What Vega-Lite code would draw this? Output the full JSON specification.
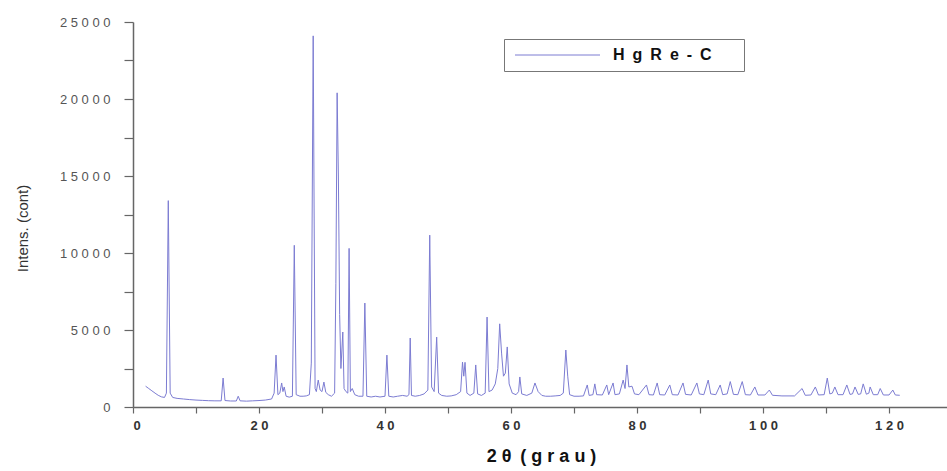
{
  "$schema": "https://vega.github.io/schema/vega-lite/v6.json",
  "width": 814,
  "height": 385,
  "autosize": {"type": "none"},
  "padding": {"left": 133, "top": 22, "right": 0, "bottom": 64},
  "background": "white",
  "config": {
    "view": {"stroke": null},
    "font": "Liberation Sans",
    "axis": {
      "grid": false,
      "domainColor": "#666",
      "domainWidth": 1.5,
      "tickColor": "#666",
      "tickWidth": 1.2,
      "labelFont": "Liberation Sans",
      "labelColor": "#444",
      "labelFontSize": 12,
      "titleFont": "Liberation Sans",
      "titleColor": "#222"
    }
  },
  "data": {
    "values": [
      {"theta2": 2.0, "intens": 1350, "serie": "HgRe-C"},
      {"theta2": 2.5, "intens": 1200, "serie": "HgRe-C"},
      {"theta2": 3.0, "intens": 1050, "serie": "HgRe-C"},
      {"theta2": 3.5, "intens": 900, "serie": "HgRe-C"},
      {"theta2": 4.0, "intens": 760, "serie": "HgRe-C"},
      {"theta2": 4.5, "intens": 660, "serie": "HgRe-C"},
      {"theta2": 5.0, "intens": 620, "serie": "HgRe-C"},
      {"theta2": 5.3, "intens": 900, "serie": "HgRe-C"},
      {"theta2": 5.6, "intens": 13400, "serie": "HgRe-C"},
      {"theta2": 5.9, "intens": 900, "serie": "HgRe-C"},
      {"theta2": 6.3, "intens": 620, "serie": "HgRe-C"},
      {"theta2": 7.0, "intens": 560, "serie": "HgRe-C"},
      {"theta2": 8.0, "intens": 520, "serie": "HgRe-C"},
      {"theta2": 9.0, "intens": 480, "serie": "HgRe-C"},
      {"theta2": 10.0, "intens": 450, "serie": "HgRe-C"},
      {"theta2": 11.0, "intens": 430, "serie": "HgRe-C"},
      {"theta2": 12.0, "intens": 410, "serie": "HgRe-C"},
      {"theta2": 13.0, "intens": 400, "serie": "HgRe-C"},
      {"theta2": 14.0, "intens": 400, "serie": "HgRe-C"},
      {"theta2": 14.3, "intens": 1880, "serie": "HgRe-C"},
      {"theta2": 14.6, "intens": 420, "serie": "HgRe-C"},
      {"theta2": 15.5, "intens": 390, "serie": "HgRe-C"},
      {"theta2": 16.4, "intens": 390, "serie": "HgRe-C"},
      {"theta2": 16.7, "intens": 700, "serie": "HgRe-C"},
      {"theta2": 17.0, "intens": 400, "serie": "HgRe-C"},
      {"theta2": 18.0, "intens": 380, "serie": "HgRe-C"},
      {"theta2": 19.0, "intens": 400, "serie": "HgRe-C"},
      {"theta2": 20.0, "intens": 420, "serie": "HgRe-C"},
      {"theta2": 21.0, "intens": 450, "serie": "HgRe-C"},
      {"theta2": 22.0, "intens": 520, "serie": "HgRe-C"},
      {"theta2": 22.4, "intens": 900, "serie": "HgRe-C"},
      {"theta2": 22.7, "intens": 3370, "serie": "HgRe-C"},
      {"theta2": 23.0, "intens": 800, "serie": "HgRe-C"},
      {"theta2": 23.3, "intens": 900, "serie": "HgRe-C"},
      {"theta2": 23.6, "intens": 1560, "serie": "HgRe-C"},
      {"theta2": 23.8, "intens": 1000, "serie": "HgRe-C"},
      {"theta2": 24.0, "intens": 1300, "serie": "HgRe-C"},
      {"theta2": 24.3, "intens": 700, "serie": "HgRe-C"},
      {"theta2": 24.8, "intens": 640, "serie": "HgRe-C"},
      {"theta2": 25.3, "intens": 700, "serie": "HgRe-C"},
      {"theta2": 25.6, "intens": 10500, "serie": "HgRe-C"},
      {"theta2": 25.9, "intens": 800, "serie": "HgRe-C"},
      {"theta2": 26.5, "intens": 700, "serie": "HgRe-C"},
      {"theta2": 27.0, "intens": 700, "serie": "HgRe-C"},
      {"theta2": 27.5, "intens": 720, "serie": "HgRe-C"},
      {"theta2": 28.0, "intens": 800, "serie": "HgRe-C"},
      {"theta2": 28.3, "intens": 2850, "serie": "HgRe-C"},
      {"theta2": 28.6, "intens": 24100, "serie": "HgRe-C"},
      {"theta2": 28.9, "intens": 1200, "serie": "HgRe-C"},
      {"theta2": 29.1, "intens": 1000, "serie": "HgRe-C"},
      {"theta2": 29.4, "intens": 1750, "serie": "HgRe-C"},
      {"theta2": 29.7, "intens": 1100, "serie": "HgRe-C"},
      {"theta2": 30.0, "intens": 1000, "serie": "HgRe-C"},
      {"theta2": 30.3, "intens": 1620, "serie": "HgRe-C"},
      {"theta2": 30.6, "intens": 950, "serie": "HgRe-C"},
      {"theta2": 31.0, "intens": 800, "serie": "HgRe-C"},
      {"theta2": 31.5, "intens": 700, "serie": "HgRe-C"},
      {"theta2": 32.0, "intens": 900, "serie": "HgRe-C"},
      {"theta2": 32.2, "intens": 8000, "serie": "HgRe-C"},
      {"theta2": 32.4, "intens": 20400, "serie": "HgRe-C"},
      {"theta2": 32.6, "intens": 15000, "serie": "HgRe-C"},
      {"theta2": 32.8, "intens": 6000, "serie": "HgRe-C"},
      {"theta2": 33.0, "intens": 2500, "serie": "HgRe-C"},
      {"theta2": 33.3, "intens": 4870, "serie": "HgRe-C"},
      {"theta2": 33.5, "intens": 1200, "serie": "HgRe-C"},
      {"theta2": 33.8, "intens": 1000, "serie": "HgRe-C"},
      {"theta2": 34.1, "intens": 900, "serie": "HgRe-C"},
      {"theta2": 34.3, "intens": 10300, "serie": "HgRe-C"},
      {"theta2": 34.5, "intens": 1000, "serie": "HgRe-C"},
      {"theta2": 34.8, "intens": 1200, "serie": "HgRe-C"},
      {"theta2": 35.2, "intens": 800, "serie": "HgRe-C"},
      {"theta2": 35.8, "intens": 700, "serie": "HgRe-C"},
      {"theta2": 36.5, "intens": 700, "serie": "HgRe-C"},
      {"theta2": 36.8, "intens": 6750, "serie": "HgRe-C"},
      {"theta2": 37.1, "intens": 700, "serie": "HgRe-C"},
      {"theta2": 37.8, "intens": 650, "serie": "HgRe-C"},
      {"theta2": 38.5, "intens": 700, "serie": "HgRe-C"},
      {"theta2": 39.2, "intens": 650, "serie": "HgRe-C"},
      {"theta2": 40.0, "intens": 700, "serie": "HgRe-C"},
      {"theta2": 40.3, "intens": 3370, "serie": "HgRe-C"},
      {"theta2": 40.6, "intens": 700, "serie": "HgRe-C"},
      {"theta2": 41.3, "intens": 650, "serie": "HgRe-C"},
      {"theta2": 42.0, "intens": 700, "serie": "HgRe-C"},
      {"theta2": 42.8, "intens": 750, "serie": "HgRe-C"},
      {"theta2": 43.5, "intens": 700, "serie": "HgRe-C"},
      {"theta2": 43.8, "intens": 800, "serie": "HgRe-C"},
      {"theta2": 44.0, "intens": 4480, "serie": "HgRe-C"},
      {"theta2": 44.2, "intens": 750, "serie": "HgRe-C"},
      {"theta2": 44.8, "intens": 700, "serie": "HgRe-C"},
      {"theta2": 45.5, "intens": 750, "serie": "HgRe-C"},
      {"theta2": 46.2, "intens": 850, "serie": "HgRe-C"},
      {"theta2": 46.8, "intens": 1100, "serie": "HgRe-C"},
      {"theta2": 47.1, "intens": 11160, "serie": "HgRe-C"},
      {"theta2": 47.4, "intens": 1300, "serie": "HgRe-C"},
      {"theta2": 47.8, "intens": 1000, "serie": "HgRe-C"},
      {"theta2": 48.2, "intens": 4540, "serie": "HgRe-C"},
      {"theta2": 48.5, "intens": 900, "serie": "HgRe-C"},
      {"theta2": 49.0, "intens": 750, "serie": "HgRe-C"},
      {"theta2": 49.8, "intens": 700, "serie": "HgRe-C"},
      {"theta2": 50.5, "intens": 720, "serie": "HgRe-C"},
      {"theta2": 51.3, "intens": 800, "serie": "HgRe-C"},
      {"theta2": 52.0, "intens": 1000, "serie": "HgRe-C"},
      {"theta2": 52.3, "intens": 2920, "serie": "HgRe-C"},
      {"theta2": 52.5, "intens": 2000, "serie": "HgRe-C"},
      {"theta2": 52.7, "intens": 2900, "serie": "HgRe-C"},
      {"theta2": 53.0, "intens": 900, "serie": "HgRe-C"},
      {"theta2": 53.5, "intens": 750, "serie": "HgRe-C"},
      {"theta2": 54.1, "intens": 900, "serie": "HgRe-C"},
      {"theta2": 54.4, "intens": 2730, "serie": "HgRe-C"},
      {"theta2": 54.7, "intens": 850, "serie": "HgRe-C"},
      {"theta2": 55.3, "intens": 750, "serie": "HgRe-C"},
      {"theta2": 55.9, "intens": 900, "serie": "HgRe-C"},
      {"theta2": 56.2, "intens": 5840, "serie": "HgRe-C"},
      {"theta2": 56.5, "intens": 1000, "serie": "HgRe-C"},
      {"theta2": 57.0, "intens": 1100, "serie": "HgRe-C"},
      {"theta2": 57.5, "intens": 1500, "serie": "HgRe-C"},
      {"theta2": 57.9, "intens": 2500, "serie": "HgRe-C"},
      {"theta2": 58.2, "intens": 5400, "serie": "HgRe-C"},
      {"theta2": 58.5, "intens": 3500, "serie": "HgRe-C"},
      {"theta2": 58.8, "intens": 2000, "serie": "HgRe-C"},
      {"theta2": 59.1, "intens": 2200, "serie": "HgRe-C"},
      {"theta2": 59.4, "intens": 3900, "serie": "HgRe-C"},
      {"theta2": 59.7, "intens": 1500, "serie": "HgRe-C"},
      {"theta2": 60.2, "intens": 900, "serie": "HgRe-C"},
      {"theta2": 60.8, "intens": 800, "serie": "HgRe-C"},
      {"theta2": 61.2, "intens": 1000, "serie": "HgRe-C"},
      {"theta2": 61.4, "intens": 1950, "serie": "HgRe-C"},
      {"theta2": 61.7, "intens": 850, "serie": "HgRe-C"},
      {"theta2": 62.5, "intens": 750, "serie": "HgRe-C"},
      {"theta2": 63.3, "intens": 900, "serie": "HgRe-C"},
      {"theta2": 63.8, "intens": 1560, "serie": "HgRe-C"},
      {"theta2": 64.3, "intens": 1000, "serie": "HgRe-C"},
      {"theta2": 64.9, "intens": 750, "serie": "HgRe-C"},
      {"theta2": 65.5, "intens": 700, "serie": "HgRe-C"},
      {"theta2": 66.3, "intens": 700, "serie": "HgRe-C"},
      {"theta2": 67.0, "intens": 720, "serie": "HgRe-C"},
      {"theta2": 67.8, "intens": 750, "serie": "HgRe-C"},
      {"theta2": 68.3, "intens": 900, "serie": "HgRe-C"},
      {"theta2": 68.7, "intens": 3700, "serie": "HgRe-C"},
      {"theta2": 69.0, "intens": 2000, "serie": "HgRe-C"},
      {"theta2": 69.3, "intens": 800, "serie": "HgRe-C"},
      {"theta2": 70.0, "intens": 700, "serie": "HgRe-C"},
      {"theta2": 70.8, "intens": 700, "serie": "HgRe-C"},
      {"theta2": 71.5, "intens": 720, "serie": "HgRe-C"},
      {"theta2": 72.1, "intens": 1430, "serie": "HgRe-C"},
      {"theta2": 72.4, "intens": 750, "serie": "HgRe-C"},
      {"theta2": 73.0, "intens": 800, "serie": "HgRe-C"},
      {"theta2": 73.3, "intens": 1500, "serie": "HgRe-C"},
      {"theta2": 73.6, "intens": 800, "serie": "HgRe-C"},
      {"theta2": 74.5, "intens": 780, "serie": "HgRe-C"},
      {"theta2": 75.2, "intens": 1430, "serie": "HgRe-C"},
      {"theta2": 75.5, "intens": 800, "serie": "HgRe-C"},
      {"theta2": 76.2, "intens": 1560, "serie": "HgRe-C"},
      {"theta2": 76.5, "intens": 800, "serie": "HgRe-C"},
      {"theta2": 77.2, "intens": 850, "serie": "HgRe-C"},
      {"theta2": 77.8, "intens": 1750, "serie": "HgRe-C"},
      {"theta2": 78.1, "intens": 1200, "serie": "HgRe-C"},
      {"theta2": 78.4, "intens": 2730, "serie": "HgRe-C"},
      {"theta2": 78.7, "intens": 1300, "serie": "HgRe-C"},
      {"theta2": 79.2, "intens": 1350, "serie": "HgRe-C"},
      {"theta2": 79.6, "intens": 850, "serie": "HgRe-C"},
      {"theta2": 80.3, "intens": 800, "serie": "HgRe-C"},
      {"theta2": 81.5, "intens": 1430, "serie": "HgRe-C"},
      {"theta2": 81.9, "intens": 800, "serie": "HgRe-C"},
      {"theta2": 82.6, "intens": 780, "serie": "HgRe-C"},
      {"theta2": 83.2, "intens": 1560, "serie": "HgRe-C"},
      {"theta2": 83.6, "intens": 800, "serie": "HgRe-C"},
      {"theta2": 84.4, "intens": 780, "serie": "HgRe-C"},
      {"theta2": 85.2, "intens": 1430, "serie": "HgRe-C"},
      {"theta2": 85.6, "intens": 800, "serie": "HgRe-C"},
      {"theta2": 86.5, "intens": 780, "serie": "HgRe-C"},
      {"theta2": 87.3, "intens": 1560, "serie": "HgRe-C"},
      {"theta2": 87.7, "intens": 820, "serie": "HgRe-C"},
      {"theta2": 88.6, "intens": 780, "serie": "HgRe-C"},
      {"theta2": 89.5, "intens": 1560, "serie": "HgRe-C"},
      {"theta2": 89.9, "intens": 850, "serie": "HgRe-C"},
      {"theta2": 90.6, "intens": 800, "serie": "HgRe-C"},
      {"theta2": 91.3, "intens": 1750, "serie": "HgRe-C"},
      {"theta2": 91.7, "intens": 850, "serie": "HgRe-C"},
      {"theta2": 92.5, "intens": 800, "serie": "HgRe-C"},
      {"theta2": 93.2, "intens": 1430, "serie": "HgRe-C"},
      {"theta2": 93.6, "intens": 800, "serie": "HgRe-C"},
      {"theta2": 94.3, "intens": 850, "serie": "HgRe-C"},
      {"theta2": 94.8, "intens": 1650, "serie": "HgRe-C"},
      {"theta2": 95.3, "intens": 820, "serie": "HgRe-C"},
      {"theta2": 96.0, "intens": 800, "serie": "HgRe-C"},
      {"theta2": 96.7, "intens": 1650, "serie": "HgRe-C"},
      {"theta2": 97.2, "intens": 800, "serie": "HgRe-C"},
      {"theta2": 98.0, "intens": 780, "serie": "HgRe-C"},
      {"theta2": 98.7, "intens": 1300, "serie": "HgRe-C"},
      {"theta2": 99.2, "intens": 780, "serie": "HgRe-C"},
      {"theta2": 100.3, "intens": 780, "serie": "HgRe-C"},
      {"theta2": 101.0, "intens": 1100, "serie": "HgRe-C"},
      {"theta2": 101.5, "intens": 760, "serie": "HgRe-C"},
      {"theta2": 103.0, "intens": 720, "serie": "HgRe-C"},
      {"theta2": 105.0, "intens": 720, "serie": "HgRe-C"},
      {"theta2": 106.2, "intens": 1200, "serie": "HgRe-C"},
      {"theta2": 106.7, "intens": 760, "serie": "HgRe-C"},
      {"theta2": 107.6, "intens": 780, "serie": "HgRe-C"},
      {"theta2": 108.3, "intens": 1300, "serie": "HgRe-C"},
      {"theta2": 108.8, "intens": 780, "serie": "HgRe-C"},
      {"theta2": 109.7, "intens": 800, "serie": "HgRe-C"},
      {"theta2": 110.2, "intens": 1880, "serie": "HgRe-C"},
      {"theta2": 110.6, "intens": 850, "serie": "HgRe-C"},
      {"theta2": 111.0, "intens": 900, "serie": "HgRe-C"},
      {"theta2": 111.4, "intens": 1300, "serie": "HgRe-C"},
      {"theta2": 111.9, "intens": 800, "serie": "HgRe-C"},
      {"theta2": 112.7, "intens": 800, "serie": "HgRe-C"},
      {"theta2": 113.3, "intens": 1430, "serie": "HgRe-C"},
      {"theta2": 113.8, "intens": 820, "serie": "HgRe-C"},
      {"theta2": 114.2, "intens": 850, "serie": "HgRe-C"},
      {"theta2": 114.6, "intens": 1300, "serie": "HgRe-C"},
      {"theta2": 115.1, "intens": 820, "serie": "HgRe-C"},
      {"theta2": 115.5, "intens": 850, "serie": "HgRe-C"},
      {"theta2": 115.9, "intens": 1500, "serie": "HgRe-C"},
      {"theta2": 116.4, "intens": 830, "serie": "HgRe-C"},
      {"theta2": 116.8, "intens": 900, "serie": "HgRe-C"},
      {"theta2": 117.0, "intens": 1300, "serie": "HgRe-C"},
      {"theta2": 117.5, "intens": 800, "serie": "HgRe-C"},
      {"theta2": 118.2, "intens": 800, "serie": "HgRe-C"},
      {"theta2": 118.6, "intens": 1200, "serie": "HgRe-C"},
      {"theta2": 119.1, "intens": 780, "serie": "HgRe-C"},
      {"theta2": 120.0, "intens": 780, "serie": "HgRe-C"},
      {"theta2": 120.6, "intens": 1100, "serie": "HgRe-C"},
      {"theta2": 121.0, "intens": 780, "serie": "HgRe-C"},
      {"theta2": 121.7, "intens": 760, "serie": "HgRe-C"}
    ]
  },
  "mark": {"type": "line", "strokeWidth": 1, "interpolate": "linear", "clip": true},
  "encoding": {
    "x": {
      "field": "theta2",
      "type": "quantitative",
      "scale": {"domain": [0, 129.2], "nice": false, "zero": false},
      "axis": {
        "title": "2 θ\u2002( g r a u )",
        "titleFontSize": 18,
        "titleFontWeight": "bold",
        "titleColor": "#111",
        "titleX": 408,
        "titleY": 54,
        "titleAnchor": "middle",
        "titleAlign": "center",
        "titleBaseline": "alphabetic",
        "values": [0, 10, 20, 30, 40, 50, 60, 70, 80, 90, 100, 110, 120],
        "labelExpr": "datum.value % 20 == 0 ? join(split(datum.label, ''), ' ') : ''",
        "tickSize": 6,
        "labelPadding": 6,
        "labelFontSize": 13,
        "labelFontWeight": "bold",
        "labelColor": "#333",
        "format": "d"
      }
    },
    "y": {
      "field": "intens",
      "type": "quantitative",
      "scale": {"domain": [0, 25000], "nice": false},
      "axis": {
        "title": "Intens. (cont)",
        "titleFontSize": 15,
        "titleFontWeight": "normal",
        "titleColor": "#333",
        "titleAngle": -90,
        "titleX": -111,
        "titleY": 206,
        "titleAlign": "center",
        "titleBaseline": "middle",
        "values": [0, 2500, 5000, 7500, 10000, 12500, 15000, 17500, 20000, 22500, 25000],
        "labelExpr": "datum.value % 5000 == 0 ? join(split(datum.label, ''), ' ') : ''",
        "format": "d",
        "tickSize": 9,
        "labelPadding": 14,
        "labelFontSize": 13,
        "labelColor": "#555"
      }
    },
    "color": {
      "field": "serie",
      "type": "nominal",
      "scale": {"range": ["#7c7cd2"]},
      "legend": {
        "title": null,
        "orient": "none",
        "legendX": 371,
        "legendY": 17,
        "direction": "vertical",
        "fillColor": "white",
        "strokeColor": "#777",
        "padding": 8,
        "symbolType": "M-1,0H16",
        "symbolSize": 100,
        "symbolStrokeWidth": 1,
        "labelOffset": 85,
        "labelFont": "Liberation Sans",
        "labelFontSize": 16,
        "labelFontWeight": "bold",
        "labelColor": "#111",
        "labelExpr": "join(split(datum.label, ''), '\u2002') + '\u2800\u2800'"
      }
    }
  }
}
